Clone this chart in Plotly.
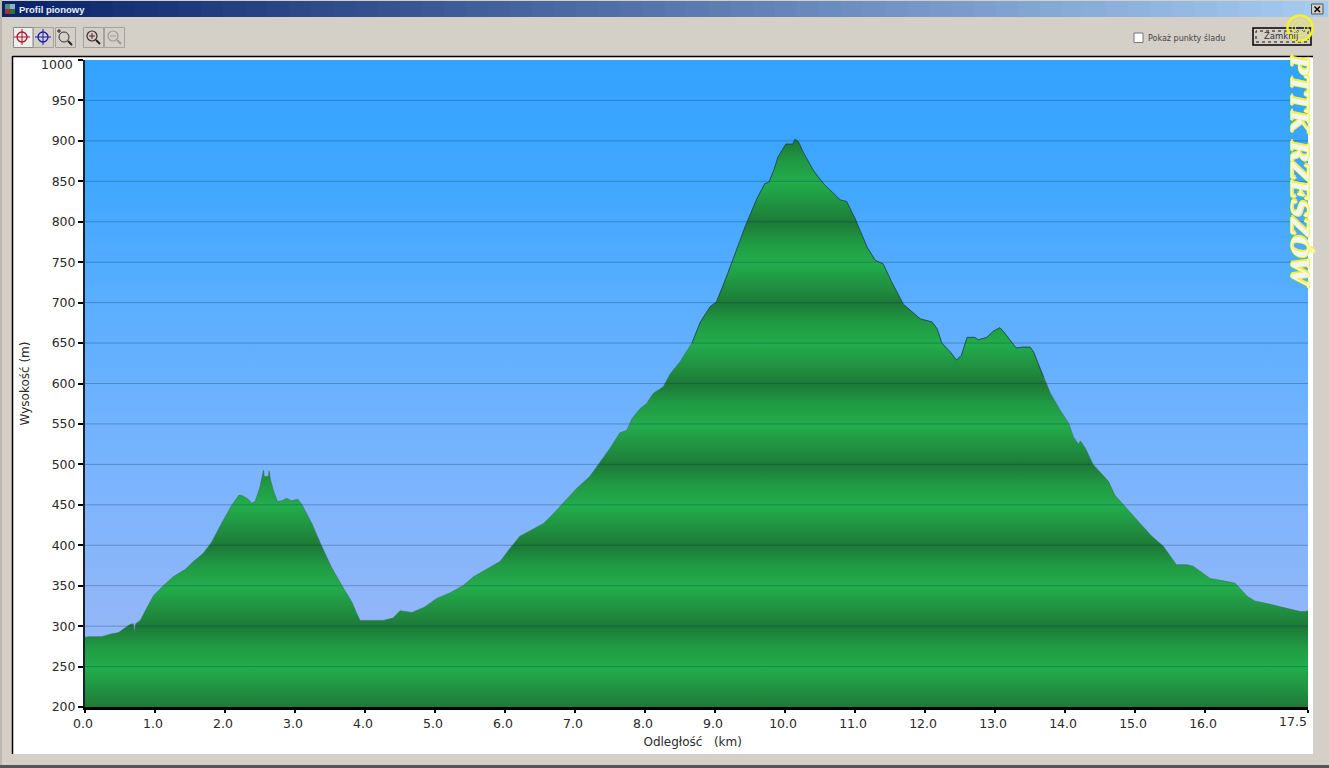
import plotly.graph_objects as go

# ---- data ----
distance_km = [0, 0.05, 0.24, 0.36, 0.48, 0.57, 0.64, 0.69, 0.705, 0.724, 0.79, 0.88, 0.98, 1.12, 1.26, 1.43, 1.55, 1.69, 1.81, 1.95,
    2.10, 2.20, 2.26, 2.33, 2.38, 2.43, 2.50, 2.52, 2.55, 2.56, 2.62, 2.63, 2.65, 2.69, 2.75, 2.81, 2.88, 2.95, 3.04, 3.10,
    3.24, 3.38, 3.52, 3.67, 3.81, 3.88, 3.93, 4.26, 4.40, 4.50, 4.67, 4.84, 5.02, 5.21, 5.40, 5.55, 5.74, 5.93, 6.07, 6.21,
    6.36, 6.55, 6.69, 6.83, 7.02, 7.21, 7.36, 7.50, 7.64, 7.74, 7.81, 7.93, 8.02, 8.12, 8.26, 8.36, 8.50, 8.67, 8.79, 8.93,
    9.02, 9.12, 9.19, 9.29, 9.43, 9.60, 9.71, 9.77, 9.84, 9.90, 10.01, 10.05, 10.11, 10.14, 10.19, 10.26, 10.40, 10.55, 10.69, 10.79,
    10.88, 11.00, 11.17, 11.29, 11.40, 11.52, 11.69, 11.83, 11.93, 12.10, 12.17, 12.24, 12.36, 12.45, 12.52, 12.60, 12.71, 12.76, 12.88, 12.98,
    13.07, 13.14, 13.30, 13.40, 13.50, 13.55, 13.69, 13.79, 13.93, 14.05, 14.12, 14.19, 14.22, 14.29, 14.40, 14.62, 14.71, 14.86, 15.05, 15.24,
    15.40, 15.59, 15.74, 15.83, 16.07, 16.26, 16.43, 16.60, 16.71, 16.88, 17.12, 17.36, 17.43, 17.47]
elevation_m = [286, 287, 287, 290, 292, 298, 302, 303, 293, 303, 307, 322, 338, 350, 361, 370, 380, 390, 404, 427,
    450, 462, 461, 457, 452, 454, 472, 481, 493, 485, 485, 492, 481, 468, 454, 455, 458, 455, 457, 450,
    427, 399, 373, 350, 330, 316, 307, 307, 310, 319, 317, 323, 334, 341, 350, 361, 371, 380, 396, 411,
    418, 427, 439, 452, 470, 485, 503, 520, 539, 542, 556, 569, 575, 588, 596, 612, 627, 650, 676, 695,
    701, 722, 738, 761, 794, 829, 847, 849, 864, 880, 896, 896, 896, 902, 899, 886, 864, 847, 835, 827,
    825, 804, 769, 752, 748, 726, 698, 688, 680, 676, 668, 650, 639, 629, 635, 657, 657, 654, 657, 665,
    669, 662, 644, 645, 645, 639, 608, 588, 567, 551, 534, 525, 529, 520, 500, 479, 462, 448, 429, 411,
    399, 376, 376, 374, 359, 356, 353, 337, 331, 328, 323, 318, 318, 319]
y_ticks = [200, 250, 300, 350, 400, 450, 500, 550, 600, 650, 700, 750, 800, 850, 900, 950, 1000]
y_labels = ["200", "250", "300", "350", "400", "450", "500", "550", "600", "650", "700", "750", "800", "850", "900", "950", ""]
top_label = "1000"
x_ticks = [0, 1, 2, 3, 4, 5, 6, 7, 8, 9, 10, 11, 12, 13, 14, 15, 16, 17.47]
x_labels = ["0.0", "1.0", "2.0", "3.0", "4.0", "5.0", "6.0", "7.0", "8.0", "9.0", "10.0", "11.0", "12.0", "13.0", "14.0", "15.0", "16.0", ""]
end_label = "17.5"

W, H = 1329, 768
L, R, T, B = 85, 1308, 60, 707
XMAX = x_ticks[-1]
YMIN, YMAX = y_ticks[0], y_ticks[-1]


def px(x):
    return (x - L) / (R - L)


def py(y):
    return (B - y) / (B - T)


shapes = []


def rect(x0, y0, x1, y1, fill=None, line=None, lw=1, layer="below"):
    shapes.append(dict(type="rect", xref="paper", yref="paper", x0=px(x0), x1=px(x1), y0=py(y0), y1=py(y1),
                       fillcolor=fill or "rgba(0,0,0,0)", line=dict(color=line or "rgba(0,0,0,0)", width=lw if line else 0),
                       layer=layer))


def seg(x0, y0, x1, y1, color, lw=1, layer="below"):
    shapes.append(dict(type="line", xref="paper", yref="paper", x0=px(x0), x1=px(x1), y0=py(y0), y1=py(y1),
                       line=dict(color=color, width=lw), layer=layer))


def circ(cx, cy, r, color, lw=1, layer="below"):
    shapes.append(dict(type="circle", xref="paper", yref="paper", x0=px(cx - r), x1=px(cx + r), y0=py(cy + r), y1=py(cy - r),
                       line=dict(color=color, width=lw), fillcolor="rgba(0,0,0,0)", layer=layer))


# title bar gradient
n = 60
for i in range(n):
    t = i / (n - 1)
    c = "rgb(%d,%d,%d)" % (10 + t * (166 - 10), 36 + t * (202 - 36), 106 + t * (240 - 106))
    rect(2 + i * (W - 4) / n, 1, 2 + (i + 1) * (W - 4) / n + 1, 17, fill=c)
# window frame and panel
rect(0, 0, 2, H, fill="#bdb9b1")
rect(0, 765, W, H, fill="#555555")
rect(13, 57, 1313, 754, fill="#ffffff")
seg(12.5, 56.5, 1313, 56.5, "#000000", 1.5)
seg(12.5, 56, 12.5, 754, "#000000", 1.5)
# toolbar buttons
rect(13.5, 27.5, 33, 47.5, fill="#eeeeea", line="#888888")
for bx0, bx1 in [(33, 53), (55, 75), (83, 103), (104, 124)]:
    rect(bx0 + .5, 27.5, bx1 + .5, 47.5, fill="#d4d0c8", line="#a5a29b")
for cx, col in [(22, "#b01030"), (43, "#1a1aa8")]:
    circ(cx, 37, 5, col, 1.3)
    seg(cx - 8, 37, cx + 8, 37, col, 1)
    seg(cx, 29, cx, 45, col, 1)
circ(64, 37, 5, "#333333", 1)
seg(68, 41, 72, 45, "#222222", 2)
seg(57, 31, 61, 31, "#222222", 1)
seg(59, 29, 59, 33, "#222222", 1)
circ(92, 36, 5, "#333333", 1.2)
seg(96, 40, 100, 44, "#222222", 2)
seg(89, 36, 95, 36, "#7a1020", 1)
seg(92, 33, 92, 39, "#7a1020", 1)
circ(113, 36, 5, "#9a9a96", 1.2)
seg(117, 40, 121, 44, "#9a9a96", 2)
seg(110, 36, 116, 36, "#9a9a96", 1)
# app icon
rect(5, 4, 10, 9, fill="#4c8f7a")
rect(10, 4, 15, 9, fill="#8fb0c8")
rect(5, 9, 10, 14, fill="#a83232")
rect(10, 9, 15, 14, fill="#2f6f3f")
# close button
rect(1311.5, 4, 1323, 14, fill="#d4d0c8", line="#555555")
seg(1314.5, 6.5, 1320, 12, "#000000", 1.5)
seg(1320, 6.5, 1314.5, 12, "#000000", 1.5)
# checkbox
rect(1134, 33, 1143, 42.5, fill="#ffffff", line="#777777")
# close-window button
rect(1253, 28, 1311, 45, fill="#d4d0c8", line="#000000", lw=1.5)
shapes.append(dict(type="rect", xref="paper", yref="paper", x0=px(1256), x1=px(1308), y0=py(42), y1=py(31),
                   line=dict(color="#111111", width=1, dash="dot"), fillcolor="rgba(0,0,0,0)", layer="below"))
# yellow stamp over the button
circ(1300, 28, 12.5, "#f6f617", 2.5, layer="above")
circ(1300, 28, 8, "#f6f617", 1, layer="above")
circ(1300, 28, 4.5, "#f6f617", 1, layer="above")


def ramp(stops):
    return [[(v - YMIN) / (YMAX - YMIN), c] for v, c in stops]


sky_scale = ramp([(200, "#9db8f6"), (350, "#8cb6fa"), (500, "#78b4fd"), (700, "#5aaeff"), (850, "#40a7ff"), (1000, "#33a3ff")])

green_stops = []
for base in range(200, 1000, 100):
    green_stops += [(base, "#1c7a36"), (base + 5, "#1e8039"), (base + 30, "#219a45"),
                    (base + 49, "#22ae4c"), (base + 54, "#22a94a"), (base + 75, "#209a44"),
                    (base + 95, "#1d7f39")]
green_stops.append((1000, "#1c7a36"))
green_scale = ramp(green_stops)

fig = go.Figure()
fig.add_trace(go.Scatter(x=[0, XMAX], y=[YMAX, YMAX], mode="lines", line=dict(width=0), fill="tozeroy",
                         fillgradient=dict(type="vertical", colorscale=sky_scale, start=YMIN, stop=YMAX),
                         hoverinfo="skip", showlegend=False))
fig.add_trace(go.Scatter(x=distance_km, y=elevation_m, mode="lines", name="Wysokość",
                         line=dict(color="rgba(60,110,90,0.55)", width=1), fill="tozeroy",
                         fillgradient=dict(type="vertical", colorscale=green_scale, start=YMIN, stop=YMAX),
                         showlegend=False))
# the outline is darker around the high part of the profile
high_i = [i for i, d in enumerate(distance_km) if 8.6 <= d <= 13.7]
fig.add_trace(go.Scatter(x=distance_km[high_i[0]:high_i[-1] + 1], y=elevation_m[high_i[0]:high_i[-1] + 1], mode="lines",
                         line=dict(color="rgba(20,65,75,0.7)", width=1), hoverinfo="skip", showlegend=False))
grid_x, grid_y = [], []
for v in y_ticks[1:-1]:
    grid_x += [0, XMAX, None]
    grid_y += [v, v, None]
fig.add_trace(go.Scatter(x=grid_x, y=grid_y, mode="lines", line=dict(color="rgba(10,45,80,0.30)", width=1),
                         hoverinfo="skip", showlegend=False))


def label(x, y, text, size=10, color="#222222", anchor="left", family="DejaVu Sans", **kw):
    return dict(x=px(x), y=py(y), xref="paper", yref="paper", text=text, showarrow=False, xanchor=anchor,
                yanchor="middle", font=dict(size=size, color=color, family=family), **kw)


annotations = [
    label(17, 9.5, "<b>Profil pionowy</b>", size=9.5, color="#e8ecf8", family="Liberation Sans"),
    label(1146, 37.5, "Pokaż punkty śladu", size=8, color="#444444"),
    label(1281, 36.5, "Zamknij", size=8.5, color="#333333", anchor="center"),
    label(75, 65, top_label, size=12.5, color="#2a2a2a", anchor="right"),
    label(1293, 721, end_label, size=12.5, color="#2a2a2a", anchor="center"),
    dict(x=px(1300), y=py(172), xref="paper", yref="paper", text="<b><i>PTTK RZESZÓW</i></b>", showarrow=False,
         textangle=90, xanchor="center", yanchor="middle",
         font=dict(size=25, color="#f4f4ff", family="DejaVu Serif",
                   shadow="1px 0 0 #f6f617, -1px 0 0 #f6f617, 0 1px 0 #f6f617, 0 -1px 0 #f6f617, -2px 0 0 #f6f617")),
]

fig.update_layout(
    width=W, height=H, autosize=False, margin=dict(l=L, r=W - R, t=T, b=H - B),
    paper_bgcolor="#d4d0c8", plot_bgcolor="#ffffff", shapes=shapes, annotations=annotations, showlegend=False,
    font=dict(family="DejaVu Sans", color="#2a2a2a", size=12.5),
    xaxis=dict(range=[0, XMAX], tickmode="array", tickvals=x_ticks, ticktext=x_labels, ticks="outside", ticklen=3,
               tickwidth=1.5, tickcolor="#000000", showgrid=False, zeroline=False, showline=True, linecolor="#000000",
               linewidth=2.5, automargin=False, tickfont=dict(size=12.5, color="#2a2a2a"), ticklabelshift=-2,
               title=dict(text="Odległość   (km)" + "&nbsp;" * 2, font=dict(size=12, color="#2a2a2a"), standoff=8)),
    yaxis=dict(range=[YMIN, YMAX], tickmode="array", tickvals=y_ticks, ticktext=y_labels, ticks="outside", ticklen=5,
               tickwidth=1.5, tickcolor="#000000", showgrid=False, zeroline=False, showline=True, linecolor="#1a2030",
               linewidth=2, automargin=False, tickfont=dict(size=12.5, color="#2a2a2a"),
               title=dict(text="Wysokość (m)", font=dict(size=12, color="#2a2a2a"), standoff=19)),
)
fig.write_html("out.html", config={"displayModeBar": False},
               post_script="document.body.style.margin='0';document.body.style.overflow='hidden';")
